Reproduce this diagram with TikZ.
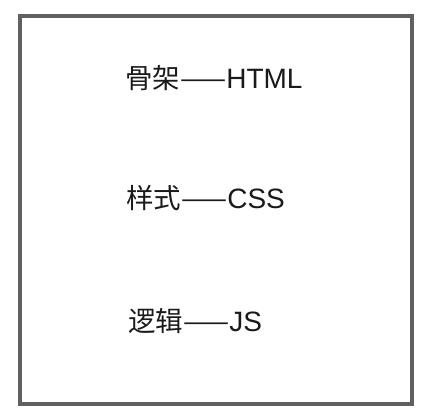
\documentclass[tikz,border=0pt]{standalone}
\usepackage{fontspec}
\setmainfont{Liberation Sans}
\newfontfamily\cjk{Noto Sans CJK SC}
\definecolor{framegray}{HTML}{606060}
\definecolor{txt}{HTML}{1A1A1A}
\newcommand{\cjkpart}[1]{{\cjk\fontsize{27.5}{30}\selectfont #1}}
\tikzset{
  frame/.style={draw=framegray, line width=4pt},
  label/.style={anchor=west, inner sep=0pt, text=txt, font=\fontsize{28}{32}\selectfont}
}
\begin{document}
\begin{tikzpicture}[x=1pt,y=-1pt]
\useasboundingbox (0,0) rectangle (424,420);
\fill[white] (0,0) rectangle (424,420);
\node[frame, minimum width=392pt, minimum height=388pt, inner sep=0pt] (box) at (216,210) {};
\node[label] (html) at (125,78) {\cjkpart{骨架——}HTML};
\node[label] (css) at (126,198) {\cjkpart{样式——}CSS};
\node[label] (js) at (128,321) {\cjkpart{逻辑——}JS};
\end{tikzpicture}
\end{document}
